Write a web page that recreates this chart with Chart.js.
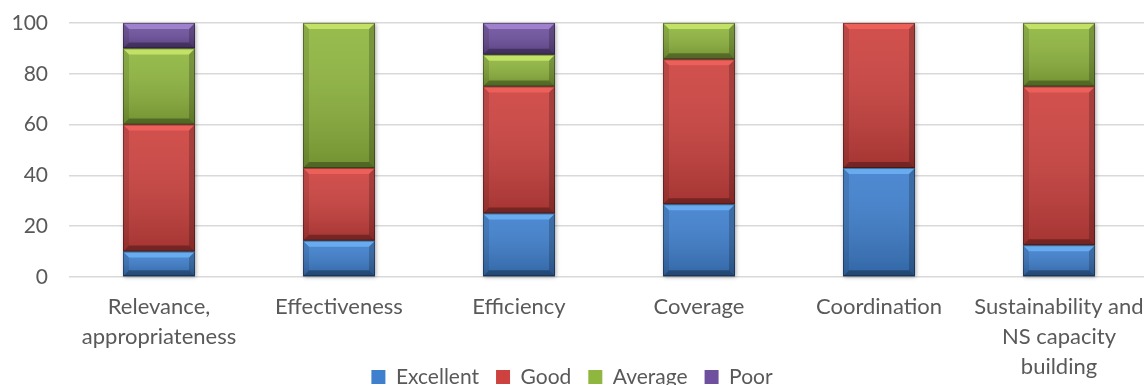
<!DOCTYPE html>
<html>
<head>
<meta charset="utf-8">
<script src="https://cdn.jsdelivr.net/npm/chart.js@4/dist/chart.umd.min.js"></script>
<style>
  html, body { margin: 0; padding: 0; background: #ffffff; overflow: hidden; }
  #wrap { position: relative; width: 1149px; height: 385px; }
</style>
</head>
<body>
<div id="wrap"><canvas id="chart"></canvas></div>
<script>
// Evaluation criteria along the x axis (multi-line labels)
const categories = [
  ["Relevance,", "appropriateness"],
  ["Effectiveness"],
  ["Efficiency"],
  ["Coverage"],
  ["Coordination"],
  ["Sustainability and", "NS capacity", "building"]
];

// Share of ratings per criterion (%)
const excellent = [10, 14.3, 25, 28.6, 42.9, 12.5];
const good      = [50, 28.6, 50, 57.1, 57.1, 62.5];
const average   = [30, 57.1, 12.5, 14.3, 0, 25];
const poor      = [10, 0, 12.5, 0, 0, 0];

const yTicks = [0, 20, 40, 60, 80, 100];

const FONT = "Lato, 'Open Sans', sans-serif";
const TEXT = "#595959";
const LEGEND_CENTER_Y = 377;
const PAGE_WIDTH = 1144;

// Bevelled look for each bar segment, drawn over the flat fill
const bevelPlugin = {
  id: 'bevel',
  beforeDatasetsDraw(chart) {
    const ctx = chart.ctx;
    const cols = {};
    chart.data.datasets.forEach((ds, di) => {
      const meta = chart.getDatasetMeta(di);
      if (meta.hidden) return;
      meta.data.forEach((el, i) => {
        const p = el.getProps(['x', 'y', 'base', 'width'], true);
        const top = Math.min(p.y, p.base), bot = Math.max(p.y, p.base);
        if (bot - top < 0.5) return;
        const c = cols[i] || (cols[i] = {x: p.x, w: p.width, top: top, bot: bot});
        c.top = Math.min(c.top, top); c.bot = Math.max(c.bot, bot);
      });
    });
    ctx.save();
    Object.values(cols).forEach(c => {
      ctx.shadowColor = 'rgba(0,0,0,0.35)';
      ctx.shadowBlur = 4;
      ctx.shadowOffsetX = 1;
      ctx.shadowOffsetY = 1;
      ctx.fillStyle = '#888';
      ctx.fillRect(c.x - c.w / 2, c.top, c.w, c.bot - c.top);
    });
    ctx.restore();
  },
  afterDatasetsDraw(chart) {
    const ctx = chart.ctx;
    chart.data.datasets.forEach((ds, di) => {
      const meta = chart.getDatasetMeta(di);
      if (meta.hidden) return;
      meta.data.forEach(el => {
        const p = el.getProps(['x', 'y', 'base', 'width'], true);
        const l = p.x - p.width / 2, r = p.x + p.width / 2;
        const t = Math.min(p.y, p.base), b = Math.max(p.y, p.base);
        const h = b - t;
        if (h < 1) return;
        const bv = Math.min(6, h / 3);
        ctx.save();
        // face shading: lighter at top, darker toward the bottom
        const g = ctx.createLinearGradient(0, t, 0, b);
        g.addColorStop(0, 'rgba(255,255,255,0.08)');
        g.addColorStop(1, 'rgba(0,0,0,0.20)');
        ctx.fillStyle = g;
        ctx.fillRect(l, t, r - l, h);
        const poly = (pts, fill) => {
          ctx.beginPath();
          ctx.moveTo(pts[0][0], pts[0][1]);
          for (let k = 1; k < pts.length; k++) ctx.lineTo(pts[k][0], pts[k][1]);
          ctx.closePath();
          ctx.fillStyle = fill;
          ctx.fill();
        };
        ctx.globalAlpha = 0.9;
        poly([[l, t], [r, t], [r - bv, t + bv], [l + bv, t + bv]], ds.highlight);
        ctx.globalAlpha = 1;
        poly([[l, b], [r, b], [r - bv, b - bv], [l + bv, b - bv]], 'rgba(0,0,0,0.30)');
        poly([[l, t], [l + bv, t + bv], [l + bv, b - bv], [l, b]], 'rgba(0,0,0,0.10)');
        poly([[r, t], [r - bv, t + bv], [r - bv, b - bv], [r, b]], 'rgba(0,0,0,0.20)');
        ctx.strokeStyle = 'rgba(0,0,0,0.35)';
        ctx.lineWidth = 1;
        ctx.strokeRect(l + 0.5, t + 0.5, r - l - 1, h - 1);
        ctx.restore();
      });
    });
  }
};

// The legend shares its band with the lower lines of the category labels:
// it takes no layout height and is placed over the bottom of the x axis.
const legendPlacement = {
  id: 'legendPlacement',
  beforeLayout(chart) {
    const lg = chart.legend;
    if (lg && !lg._flatFit) {
      const fit = lg.fit.bind(lg);
      lg.fit = function () { fit(); this._fullHeight = this.height; this.height = 0; };
      lg._flatFit = true;
    }
  },
  afterLayout(chart) {
    const lg = chart.legend;
    if (!lg) return;
    const pad = lg.options.labels.padding;
    const size = lg.options.labels.font.size;
    lg.height = lg._fullHeight;
    lg.top = LEGEND_CENTER_Y - pad - size / 2;
    lg.bottom = lg.top + lg.height;
    lg.left = 0;
    lg.right = PAGE_WIDTH;
    lg.width = PAGE_WIDTH;
  }
};

const series = [
  {label: 'Excellent', data: excellent, color: '#3e7fce', highlight: '#6cb0f2'},
  {label: 'Good',      data: good,      color: '#cd413e', highlight: '#f0625c'},
  {label: 'Average',   data: average,   color: '#8fb63e', highlight: '#c6e56a'},
  {label: 'Poor',      data: poor,      color: '#6e509f', highlight: '#a384d0'}
];

new Chart(document.getElementById('chart'), {
  type: 'bar',
  data: {
    labels: categories,
    datasets: series.map(s => ({
      label: s.label,
      data: s.data,
      backgroundColor: s.color,
      highlight: s.highlight,
      borderWidth: 0,
      categoryPercentage: 1.0,
      barPercentage: 0.4
    }))
  },
  plugins: [bevelPlugin, legendPlacement],
  options: {
    responsive: true,
    maintainAspectRatio: false,
    animation: false,
    layout: { padding: { top: 23, right: 0, bottom: 0, left: 0 } },
    plugins: {
      tooltip: { enabled: false },
      legend: {
        position: 'bottom',
        labels: {
          font: { family: FONT, size: 21 },
          color: TEXT,
          boxWidth: 14,
          boxHeight: 14,
          padding: 17
        }
      }
    },
    scales: {
      x: {
        stacked: true,
        grid: { display: false, drawTicks: false },
        border: { display: false },
        ticks: {
          color: TEXT,
          font: { family: FONT, size: 22, lineHeight: 1.36 },
          padding: 15,
          maxRotation: 0,
          autoSkip: false
        },
        afterFit(scale) {
          scale.height = 108;
          scale.paddingLeft = 0;
          scale.paddingRight = 0;
        }
      },
      y: {
        stacked: true,
        min: 0,
        max: 100,
        afterBuildTicks(scale) { scale.ticks = yTicks.map(v => ({value: v})); },
        grid: { color: '#d9d9d9', lineWidth: 1.5, drawTicks: false },
        border: { display: false },
        ticks: {
          color: TEXT,
          font: { family: FONT, size: 21 },
          padding: 21
        },
        afterFit(scale) {
          scale.width = 69;
          scale.paddingTop = 0;
          scale.paddingBottom = 0;
        }
      }
    }
  }
});
</script>
</body>
</html>
